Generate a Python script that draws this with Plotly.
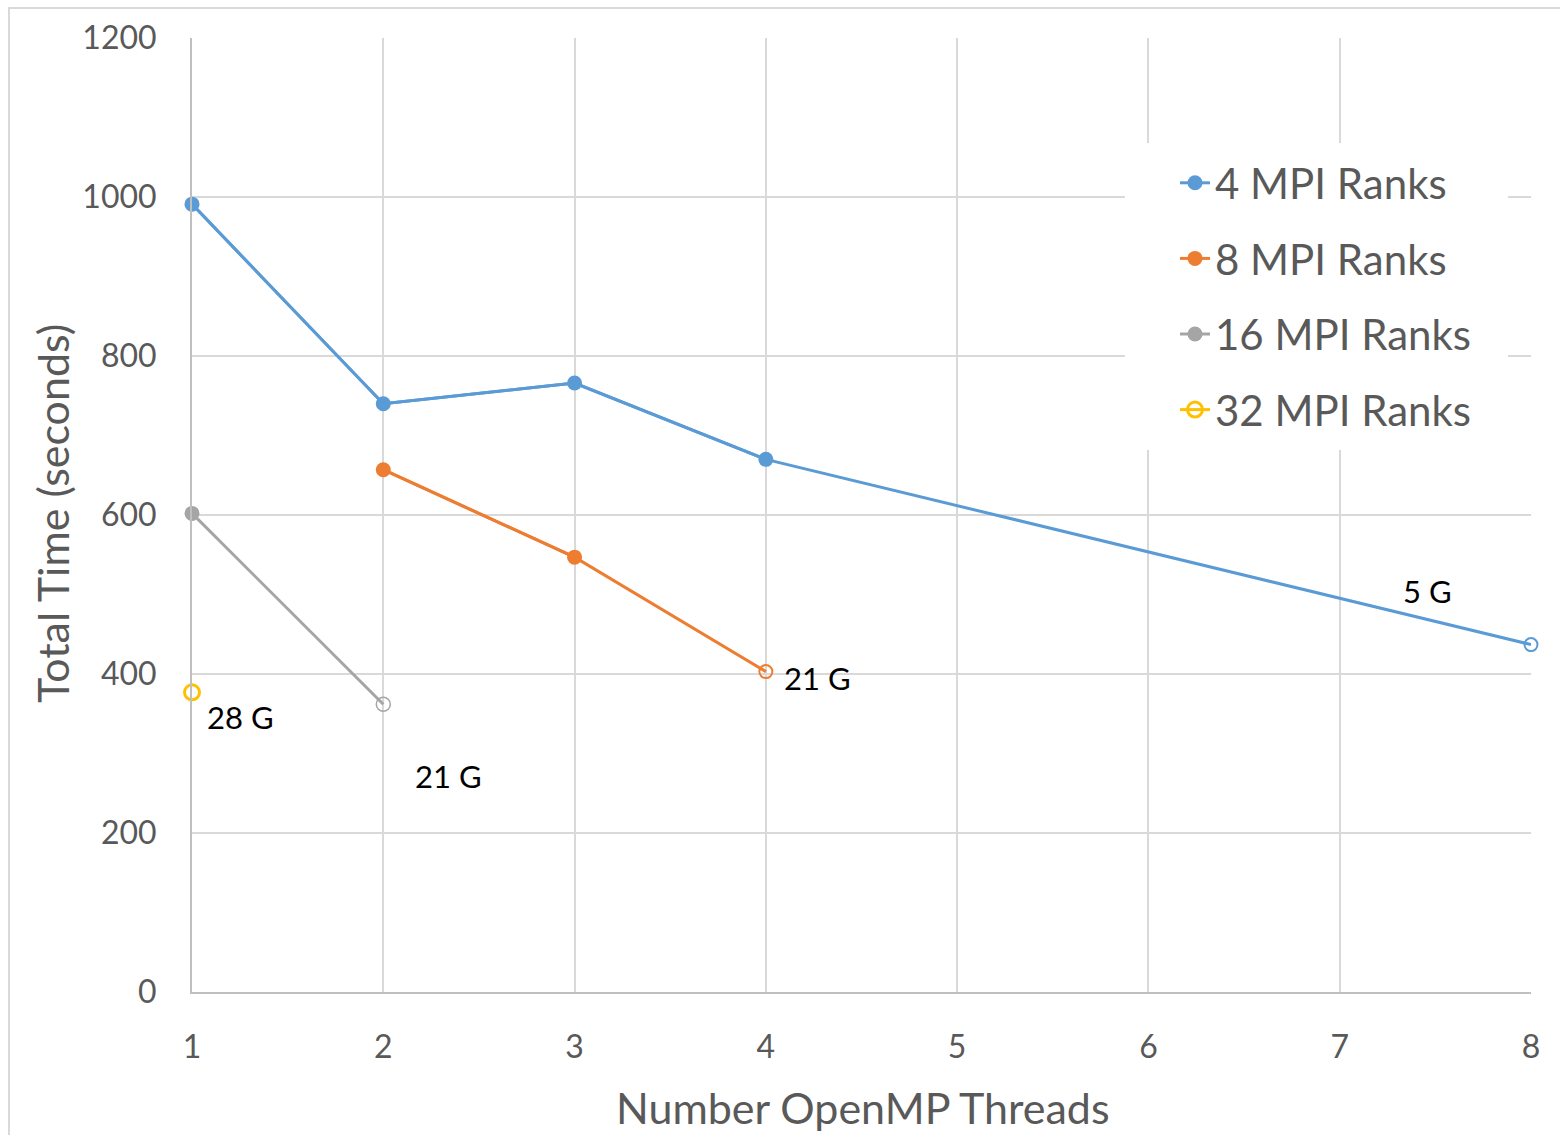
import plotly.graph_objects as go

# ---- data ----
series_names = ["4 MPI Ranks", "8 MPI Ranks", "16 MPI Ranks", "32 MPI Ranks"]
threads_4 = [1, 2, 3, 4, 8]
time_4 = [991, 740, 766, 670, 437]
threads_8 = [2, 3, 4]
time_8 = [657, 547, 403]
threads_16 = [1, 2]
time_16 = [602, 362]
threads_32 = [1]
time_32 = [377]
memory_labels = ["5 G", "21 G", "21 G", "28 G"]  # label for last point of each series

colors = ["#5B9BD5", "#ED7D31", "#A5A5A5", "#FFC000"]
xs = [threads_4, threads_8, threads_16, threads_32]
ys = [time_4, time_8, time_16, time_32]
end_ring_width = [2, 2, 1.5, 3]
end_size = [13, 13, 14, 15]

W, H = 1560, 1135
L, R, T, B = 192, 29, 38, 143
pw, ph = W - L - R, H - T - B

def px2paper_x(px):
    return (px - L) / pw

def px2paper_y(py):
    return (H - B - py) / ph

fig = go.Figure()
for name, x, y, c, rw, es in zip(series_names, xs, ys, colors, end_ring_width, end_size):
    if len(x) > 1:
        # full line
        fig.add_trace(go.Scatter(
            x=x, y=y, name=name, mode="lines", line=dict(color=c, width=3),
            cliponaxis=False, legendgroup=name, showlegend=False, hoverinfo="skip",
        ))
        # filled markers (all but the last point)
        fig.add_trace(go.Scatter(
            x=x[:-1], y=y[:-1], name=name, mode="lines+markers",
            line=dict(color=c, width=3),
            marker=dict(symbol="circle", size=15, color=c),
            cliponaxis=False, legendgroup=name, showlegend=True,
        ))
        # open marker at the last point
        fig.add_trace(go.Scatter(
            x=x[-1:], y=y[-1:], name=name, mode="markers",
            marker=dict(symbol="circle-open", size=es, color=c, line=dict(color=c, width=rw)),
            cliponaxis=False, legendgroup=name, showlegend=False,
        ))
    else:
        fig.add_trace(go.Scatter(
            x=x, y=y, name=name, mode="lines+markers",
            line=dict(color=c, width=3),
            marker=dict(symbol="circle-open", size=es, color=c, line=dict(color=c, width=rw)),
            cliponaxis=False, legendgroup=name, showlegend=True,
        ))

# annotation offsets (text placement relative to last point)
label_style = [
    dict(xanchor="right", xshift=-77, yshift=54),
    dict(xanchor="left", xshift=16, yshift=-6),
    dict(xanchor="left", xshift=30, yshift=-72),
    dict(xanchor="left", xshift=13, yshift=-25),
]
for x, y, lab, st in zip(xs, ys, memory_labels, label_style):
    fig.add_annotation(x=x[-1], y=y[-1], text=lab, showarrow=False,
                       yanchor="middle", font=dict(family="Lato", size=31, color="#000000"),
                       **st)

# axis titles
fig.add_annotation(xref="paper", yref="paper", x=px2paper_x(863), y=px2paper_y(1107),
                   text="Number OpenMP Threads", showarrow=False,
                   xanchor="center", yanchor="middle",
                   font=dict(family="Lato", size=43, color="#595959"))
fig.add_annotation(xref="paper", yref="paper", x=px2paper_x(52), y=px2paper_y(514),
                   text="Total Time (seconds)", showarrow=False, textangle=-90,
                   xanchor="center", yanchor="middle",
                   font=dict(family="Lato", size=43, color="#595959"))

# white box behind legend (interrupts gridlines)
fig.add_shape(type="rect", xref="paper", yref="paper",
              x0=px2paper_x(1125), x1=px2paper_x(1508),
              y0=px2paper_y(450), y1=px2paper_y(143),
              fillcolor="white", line=dict(width=0), layer="above")
# outer chart frame
fig.add_shape(type="rect", xref="paper", yref="paper",
              x0=px2paper_x(9), x1=px2paper_x(1600),
              y0=px2paper_y(1200), y1=px2paper_y(8),
              fillcolor="rgba(0,0,0,0)", line=dict(color="#d9d9d9", width=2), layer="above")

fig.update_layout(
    width=W, height=H,
    margin=dict(l=L, r=R, t=T, b=B, pad=0),
    paper_bgcolor="white", plot_bgcolor="white",
    font=dict(family="Lato", color="#595959"),
    showlegend=True,
    legend=dict(x=px2paper_x(1175), y=px2paper_y(149), xanchor="left", yanchor="top",
                bgcolor="rgba(255,255,255,0)", borderwidth=0,
                font=dict(family="Lato", size=42, color="#595959"),
                tracegroupgap=18),
    xaxis=dict(range=[1, 8], tickmode="array", tickvals=[1, 2, 3, 4, 5, 6, 7, 8],
               showgrid=True, gridcolor="#d9d9d9", gridwidth=1.5,
               showline=True, linecolor="#bfbfbf", linewidth=2,
               zeroline=False, ticks="", ticklabelstandoff=26,
               tickfont=dict(family="Lato", size=32, color="#595959")),
    yaxis=dict(range=[0, 1200], tickmode="array", tickvals=[0, 200, 400, 600, 800, 1000, 1200],
               showgrid=True, gridcolor="#d9d9d9", gridwidth=1.5,
               showline=True, linecolor="#bfbfbf", linewidth=2,
               zeroline=False, ticks="", ticklabelstandoff=27,
               tickfont=dict(family="Lato", size=32, color="#595959")),
)
fig.write_html("out.html")
